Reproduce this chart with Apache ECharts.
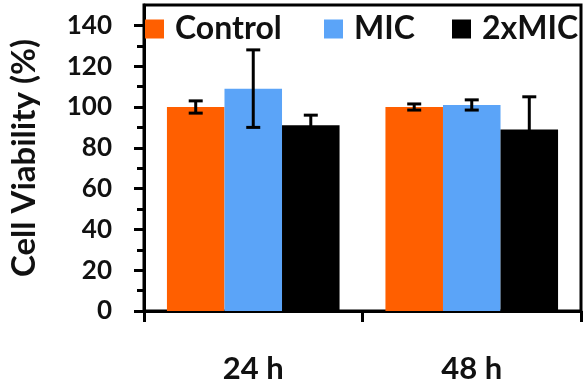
<!DOCTYPE html>
<html>
<head>
<meta charset="utf-8">
<script src="https://cdn.jsdelivr.net/npm/echarts@6/dist/echarts.min.js"></script>
<style>
  html, body { margin: 0; padding: 0; background: #fff; }
  #main { width: 587px; height: 386px; }
</style>
</head>
<body>
<div id="main"></div>
<script>
var categories = ['24 h', '48 h'];
var seriesNames = ['Control', 'MIC', '2xMIC'];
var control = [100, 100];
var controlErr = [3, 1.5];
var mic = [109, 101];
var micErr = [19, 2.5];
var twoMic = [91, 89];
var twoMicErr = [5, 16];
var yTicks = [0, 20, 40, 60, 80, 100, 120, 140];
var yMinorTicks = [10, 30, 50, 70, 90, 110, 130];

var colors = ['#ff5f00', '#5ba4f8', '#000000'];
var font = 'Lato';
var gapPct = 0.21;

var values = [control, mic, twoMic];
var errors = [controlErr, micErr, twoMicErr];

// error bars drawn over the bars, offset to each bar's centre
function errorSeries(idx) {
  return {
    type: 'custom',
    name: seriesNames[idx] + ' err',
    z: 5,
    data: categories.map(function (c, i) {
      return [i, values[idx][i] - errors[idx][i], values[idx][i] + errors[idx][i]];
    }),
    renderItem: function (params, api) {
      var band = api.size([1, 0])[0];
      var barW = band * (1 - gapPct) / 3;
      var lo = api.coord([api.value(0), api.value(1)]);
      var hi = api.coord([api.value(0), api.value(2)]);
      var x = lo[0] + (idx - 1) * barW;
      var cap = 7;
      var st = { stroke: '#000', lineWidth: 3 };
      return {
        type: 'group',
        children: [
          { type: 'line', shape: { x1: x, y1: lo[1], x2: x, y2: hi[1] }, style: st },
          { type: 'line', shape: { x1: x - cap, y1: lo[1], x2: x + cap, y2: lo[1] }, style: st },
          { type: 'line', shape: { x1: x - cap, y1: hi[1], x2: x + cap, y2: hi[1] }, style: st }
        ]
      };
    }
  };
}

var legendLeft = [140, 319, 447];

var myChart = echarts.init(document.getElementById('main'));
var option = {
  animation: false,
  color: colors,
  textStyle: { fontFamily: font },
  legend: seriesNames.map(function (n, i) {
    return {
      data: [n],
      left: legendLeft[i],
      top: 8,
      icon: 'rect',
      itemWidth: 19,
      itemHeight: 19,
      selectedMode: false,
      textStyle: { fontFamily: font, fontSize: 32, fontWeight: 'bold', color: '#111', padding: [0, 0, 0, 6], lineHeight: 32 }
    };
  }),
  grid: {
    left: 140, right: 6, top: 5, bottom: 75,
    show: true, borderColor: '#000', borderWidth: 3, backgroundColor: 'transparent'
  },
  xAxis: {
    type: 'category',
    data: categories,
    axisLine: { lineStyle: { color: '#000', width: 3 } },
    axisTick: { show: true, length: 11, lineStyle: { color: '#000', width: 3 } },
    axisLabel: { fontFamily: font, fontSize: 31, fontWeight: 'bold', color: '#111', margin: 42 },
    splitLine: { show: false }
  },
  yAxis: [{
    type: 'value',
    min: 0, max: 150,
    name: 'Cell Viability (%)',
    nameLocation: 'middle',
    nameRotate: 90,
    nameGap: 103,
    nameTextStyle: { fontFamily: font, fontSize: 33, fontWeight: 'bold', color: '#111' },
    axisLine: { show: true, lineStyle: { color: '#000', width: 3 } },
    axisTick: { show: true, length: 10, customValues: yTicks, lineStyle: { color: '#000', width: 3 } },
    axisLabel: { customValues: yTicks, fontFamily: font, fontSize: 26, fontWeight: 'bold', color: '#111', margin: 32 },
    splitLine: { show: false }
  }, {
    type: 'value',
    position: 'left',
    min: 0, max: 150,
    axisLine: { show: false },
    axisTick: { show: true, length: 7, customValues: yMinorTicks, lineStyle: { color: '#000', width: 3 } },
    axisLabel: { show: false },
    splitLine: { show: false }
  }],
  series: seriesNames.map(function (n, i) {
    return {
      name: n,
      type: 'bar',
      data: values[i],
      barGap: '0%',
      barCategoryGap: (gapPct * 100) + '%'
    };
  }).concat([errorSeries(0), errorSeries(1), errorSeries(2)])
};
myChart.setOption(option);
</script>
</body>
</html>
